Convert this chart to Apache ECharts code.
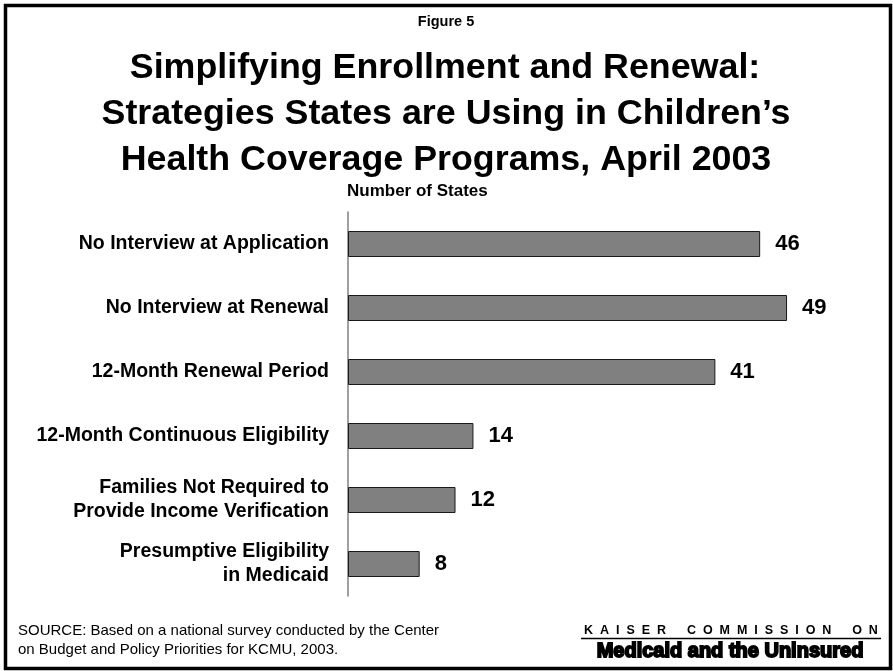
<!DOCTYPE html>
<html>
<head>
<meta charset="utf-8">
<script src="https://cdn.jsdelivr.net/npm/echarts@6/dist/echarts.min.js"></script>
<style>
  html, body { margin: 0; padding: 0; background: #fff; }
  #chart { width: 893px; height: 671px; }
</style>
</head>
<body>
<div id="chart"></div>
<script>
// Strategies and the number of states using each one
const strategies = [
  'No Interview at Application',
  'No Interview at Renewal',
  '12-Month Renewal Period',
  '12-Month Continuous Eligibility',
  'Families Not Required to\nProvide Income Verification',
  'Presumptive Eligibility\nin Medicaid'
];
const stateCounts = [46, 49, 41, 14, 12, 8];

const titleLines = [
  'Simplifying Enrollment and Renewal:',
  'Strategies States are Using in Children\u2019s',
  'Health Coverage Programs, April 2003'
];

const FONT = '"Liberation Sans", Arial, sans-serif';

// spread the letters of a heading apart (letters separated by two spaces, words by six)
function spaced(s) {
  return s.split(' ').map(w => w.split('').join('  ')).join('      ');
}

const chart = echarts.init(document.getElementById('chart'), null, { renderer: 'canvas' });

chart.setOption({
  backgroundColor: '#ffffff',
  animation: false,
  grid: { left: 348, top: 212, width: 448, height: 384, containLabel: false },
  xAxis: {
    type: 'value',
    min: 0,
    max: 50,
    show: false
  },
  yAxis: {
    type: 'category',
    data: strategies,
    inverse: true,
    axisLine: { show: true, lineStyle: { color: '#808080', width: 1.5 } },
    axisTick: { show: false },
    axisLabel: {
      margin: 19,
      color: '#000',
      fontFamily: FONT,
      fontWeight: 'bold',
      fontSize: 19.5,
      lineHeight: 24,
      align: 'right'
    }
  },
  series: [{
    type: 'bar',
    data: stateCounts,
    barWidth: 26,
    itemStyle: { color: '#808080', borderColor: '#1a1a1a', borderWidth: 1 },
    label: {
      show: true,
      position: 'right',
      distance: 15,
      color: '#000',
      fontFamily: FONT,
      fontWeight: 'bold',
      fontSize: 22
    }
  }],
  graphic: [
    // outer frame
    { type: 'rect', shape: { x: 5.5, y: 5.5, width: 885, height: 663 },
      style: { fill: null, stroke: '#000', lineWidth: 3.5 }, silent: true },
    { type: 'text', x: 446, y: 22,
      style: { text: 'Figure 5', fill: '#000', font: 'bold 14.5px ' + FONT, align: 'center', verticalAlign: 'middle' } },
    { type: 'text', x: 445, y: 68,
      style: { text: titleLines[0], fill: '#000', font: 'bold 35.8px ' + FONT, align: 'center', verticalAlign: 'middle' } },
    { type: 'text', x: 446, y: 114,
      style: { text: titleLines[1], fill: '#000', font: 'bold 35.8px ' + FONT, align: 'center', verticalAlign: 'middle' } },
    { type: 'text', x: 446, y: 160,
      style: { text: titleLines[2], fill: '#000', font: 'bold 35.8px ' + FONT, align: 'center', verticalAlign: 'middle' } },
    { type: 'text', x: 347, y: 191,
      style: { text: 'Number of States', fill: '#000', font: 'bold 17px ' + FONT, align: 'left', verticalAlign: 'middle' } },
    // source note sits on the same two lines as the logo
    { type: 'text', x: 18, y: 640.5,
      style: { text: 'SOURCE: Based on a national survey conducted by the Center\non Budget and Policy Priorities for KCMU, 2003.',
        fill: '#000', font: '15px ' + FONT, lineHeight: 19, align: 'left', verticalAlign: 'middle' } },
    { type: 'text', x: 731, y: 631,
      style: { text: spaced('KAISER COMMISSION ON'), fill: '#000', font: 'bold 12.5px ' + FONT,
        align: 'center', verticalAlign: 'middle' } },
    { type: 'line', shape: { x1: 581, y1: 638.5, x2: 881, y2: 638.5 },
      style: { stroke: '#000', lineWidth: 1.5 } },
    { type: 'text', x: 730, y: 651,
      style: { text: 'Medicaid and the Uninsured', fill: '#000', font: 'bold 20px ' + FONT,
        stroke: '#000', lineWidth: 1.8, align: 'center', verticalAlign: 'middle' } }
  ]
});
</script>
</body>
</html>
